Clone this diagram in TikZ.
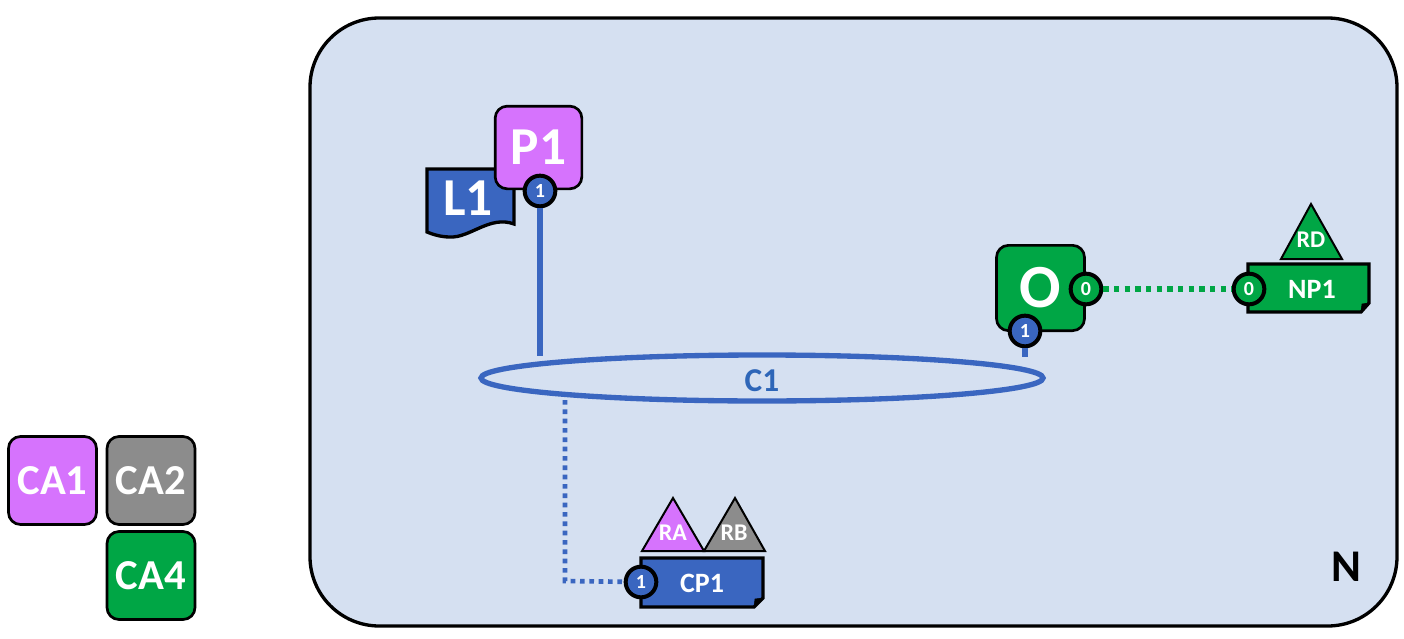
\documentclass[tikz,border=0pt]{standalone}
\usepackage{fontspec}
\setmainfont{Carlito}
\usetikzlibrary{shapes.geometric}
\definecolor{bgN}{HTML}{D5E0F1}
\definecolor{pur}{HTML}{D673FD}
\definecolor{grn}{HTML}{00A645}
\definecolor{blu}{HTML}{3A66C0}
\definecolor{gry}{HTML}{8C8C8C}
\definecolor{ctxt}{HTML}{2E66B8}
\begin{document}
\begin{tikzpicture}[x=0.75pt,y=-0.75pt,
  box/.style={draw=black,line width=2pt,rounded corners=9pt,text=white,font=\bfseries},
  port/.style={circle,draw=black,line width=3pt,minimum size=23pt,inner sep=0pt,text=white,font=\bfseries\fontsize{15}{15}\selectfont},
  tri/.style={draw=black,line width=1.5pt},
  tl/.style={text=white,font=\bfseries\fontsize{18}{18}\selectfont}]
\useasboundingbox (0,0) rectangle (1404,639);
% frame
\draw[fill=bgN,line width=2.5pt,rounded corners=52pt] (310,18) rectangle (1397,626);
\node[font=\bfseries\fontsize{34}{34}\selectfont] (N) at (1346,567) {N};
% legend
\node[box,fill=pur,minimum width=66pt,minimum height=66pt,font=\bfseries\fontsize{32}{32}\selectfont] (CA1) at (52.5,480.5) {CA1};
\node[box,fill=gry,minimum width=66pt,minimum height=66pt,font=\bfseries\fontsize{32}{32}\selectfont] (CA2) at (151,480.5) {CA2};
\node[box,fill=grn,minimum width=66pt,minimum height=66pt,font=\bfseries\fontsize{32}{32}\selectfont] (CA4) at (151,575.5) {CA4};
% L1
\draw[fill=blu,line width=2.5pt] (427,169) -- (514,169) -- (514,224) .. controls (490,215) and (470,238) .. (450,237) .. controls (440,237) and (432,234) .. (427,232) -- cycle;
\node[tl,font=\bfseries\fontsize{40}{40}\selectfont] (L1) at (468,198) {L1};
% P1
\node[box,fill=pur,minimum width=65pt,minimum height=62pt,font=\bfseries\fontsize{40}{40}\selectfont] (P1) at (538.5,147.5) {P1};
% C1
\draw[blu,line width=4pt] (762,378) ellipse[x radius=281,y radius=23];
\node[text=ctxt,font=\bfseries\fontsize{25}{25}\selectfont] (C1) at (762,381) {C1};
\coordinate (c1a) at (540,356);
\coordinate (c1b) at (1025,357);
\coordinate (c1c) at (565,400);
\node[port,fill=blu] (p1p) at (540,191) {1};
\draw[blu,line width=4pt] (p1p) -- (c1a);
% O
\node[box,fill=grn,minimum width=66pt,minimum height=64pt,font=\bfseries\fontsize{46}{46}\selectfont] (O) at (1040.5,288) {O};
\node[port,fill=blu] (op1) at (1025,331) {1};
\node[port,fill=grn] (op0) at (1086,289) {0};
\draw[blu,line width=4pt] (op1) -- (c1b);
% NP1
\draw[fill=grn,line width=2.5pt] (1248,264) -- (1369,264) -- (1369,303) -- (1361,312) -- (1248,312) -- cycle;
\draw[fill=black] (1369,303) -- (1361,312) -- (1362,304) -- cycle;
\node[text=white,font=\bfseries\fontsize{21}{21}\selectfont] (NP1) at (1312,289) {NP1};
\node[port,fill=grn] (np0) at (1249,289) {0};
\draw[grn,line width=4pt,dash pattern=on 4pt off 4pt] (op0) -- (np0);
\draw[tri,fill=grn] (1311,204) -- (1342,259) -- (1281,259) -- cycle;
\node[tl] (RD) at (1311,240) {RD};
% CP1
\draw[fill=blu,line width=2.5pt] (641,558) -- (763,558) -- (763,598) -- (754,607) -- (641,607) -- cycle;
\draw[fill=black] (763,598) -- (754,607) -- (755,599) -- cycle;
\node[text=white,font=\bfseries\fontsize{21}{21}\selectfont] (CP1) at (702,583) {CP1};
\node[port,fill=blu] (cp1p) at (641,582) {1};
\draw[blu,line width=3.5pt,dash pattern=on 3.5pt off 3.5pt] (c1c) -- (565,581) -- (cp1p);
\draw[tri,fill=pur] (673,498) -- (704,551) -- (642,551) -- cycle;
\node[tl] (RA) at (673,533) {RA};
\draw[tri,fill=gry] (735,498) -- (765,551) -- (704,551) -- cycle;
\node[tl] (RB) at (734,533) {RB};
\end{tikzpicture}
\end{document}
